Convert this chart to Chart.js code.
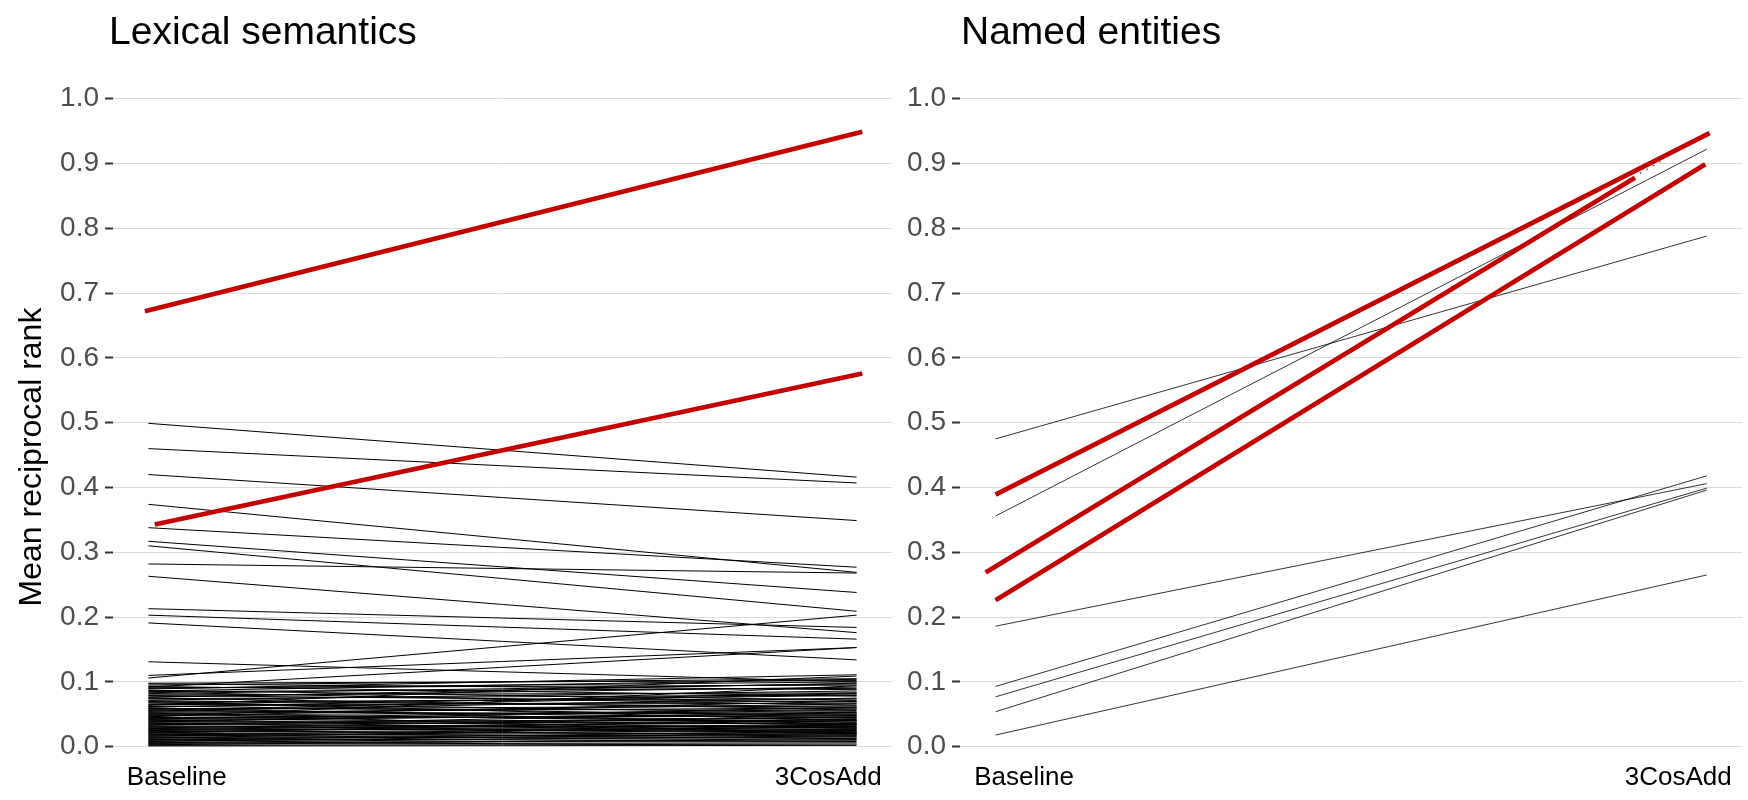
<!DOCTYPE html>
<html>
<head>
<meta charset="utf-8">
<script src="https://cdn.jsdelivr.net/npm/chart.js@4.4.0/dist/chart.umd.min.js"></script>
<style>
  html, body { margin: 0; padding: 0; background: #ffffff; }
  #wrap { position: relative; width: 1748px; height: 800px; overflow: hidden; }
  #wrap canvas { position: absolute; top: 0; }
  #lex { left: 0; }
  #ne { left: 900px; }
</style>
</head>
<body>
<div id="wrap">
  <canvas id="lex" width="900" height="800"></canvas>
  <canvas id="ne" width="848" height="800"></canvas>
</div>
<script>
// ---- data -------------------------------------------------------------
const conditions = ['Baseline', '3CosAdd'];
const conditionTickX = [0.04, 0.96];

// Lexical semantics: one line per relation, MRR under each condition
const lexBaseline = [
  0.499, 0.460, 0.420, 0.374, 0.338, 0.317, 0.310, 0.282, 0.263, 0.213,
  0.203, 0.191, 0.131, 0.110, 0.106, 0.092,
  0.098, 0.097, 0.095, 0.093, 0.091, 0.089, 0.087, 0.085, 0.084, 0.082,
  0.080, 0.079, 0.077, 0.075, 0.074, 0.072, 0.071, 0.069, 0.068, 0.066,
  0.065, 0.063, 0.062, 0.061, 0.059, 0.058, 0.057, 0.055, 0.054, 0.053,
  0.051, 0.050, 0.049, 0.048, 0.047, 0.045, 0.044, 0.043, 0.042, 0.041,
  0.040, 0.039, 0.038, 0.037, 0.036, 0.035, 0.034, 0.033, 0.032, 0.031,
  0.030, 0.029, 0.028, 0.027, 0.026, 0.025, 0.024, 0.023, 0.022, 0.021,
  0.020, 0.019, 0.018, 0.017, 0.016, 0.015, 0.014, 0.013, 0.012, 0.011,
  0.010, 0.009, 0.008, 0.007, 0.006, 0.005, 0.004, 0.003, 0.002, 0.001,
  0.090, 0.086, 0.076, 0.064, 0.056, 0.046, 0.070, 0.060, 0.052
];
const lexCosAdd = [
  0.416, 0.407, 0.349, 0.269, 0.277, 0.238, 0.209, 0.268, 0.176, 0.184,
  0.166, 0.134, 0.100, 0.153, 0.203, 0.153,
  0.102, 0.088, 0.105, 0.078, 0.095, 0.111, 0.072, 0.090, 0.064, 0.097,
  0.083, 0.069, 0.092, 0.058, 0.080, 0.086, 0.061, 0.074, 0.052, 0.079,
  0.067, 0.048, 0.071, 0.083, 0.056, 0.063, 0.044, 0.075, 0.050, 0.060,
  0.038, 0.066, 0.054, 0.042, 0.070, 0.047, 0.034, 0.058, 0.049, 0.029,
  0.052, 0.041, 0.061, 0.036, 0.026, 0.045, 0.040, 0.053, 0.031, 0.022,
  0.037, 0.046, 0.033, 0.025, 0.040, 0.030, 0.019, 0.035, 0.028, 0.043,
  0.024, 0.016, 0.031, 0.022, 0.027, 0.013, 0.020, 0.034, 0.018, 0.010,
  0.024, 0.015, 0.021, 0.008, 0.017, 0.011, 0.006, 0.013, 0.004, 0.002,
  0.100, 0.104, 0.098, 0.109, 0.082, 0.094, 0.040, 0.035, 0.020
];
// highlighted relations (red): values and x at each end
const lexHighlightBaseline = [0.672, 0.343];
const lexHighlightCosAdd = [0.949, 0.576];
const lexHighlightFromX = [-0.005, 0.009];
const lexHighlightToX = [1.008, 1.008];

// Named entities
const neBaseline = [0.475, 0.356, 0.186, 0.093, 0.077, 0.054, 0.018];
const neCosAdd = [0.788, 0.922, 0.406, 0.418, 0.399, 0.396, 0.265];
const neHighlightBaseline = [0.389, 0.226, 0.269];
const neHighlightCosAdd = [0.947, 0.899, 0.878];
const neHighlightFromX = [0, 0, -0.014];
const neHighlightToX = [1.004, 0.998, 0.899];
// short dotted trace continuing past the last highlighted segment
const neTraceX = [0.906, 0.935];
const neTraceY = [0.885, 0.903];

// ---- styling ----------------------------------------------------------
const FONT = "'Liberation Sans', Arial, Helvetica, sans-serif";
const RED = '#C40000';
Chart.defaults.font.family = FONT;

function segment(x0, y0, x1, y1, color, width, order, dash) {
  return {
    data: [{ x: x0, y: y0 }, { x: x1, y: y1 }],
    borderColor: color,
    borderWidth: width,
    borderDash: dash || [],
    pointRadius: 0,
    pointHoverRadius: 0,
    fill: false,
    tension: 0,
    order: order
  };
}

// panel title and axis title drawn straight on the canvas
const panelText = {
  id: 'panelText',
  afterDraw(chart, args, opts) {
    const ctx = chart.ctx;
    ctx.save();
    ctx.fillStyle = '#000';
    ctx.textBaseline = 'alphabetic';
    ctx.textAlign = 'left';
    ctx.font = '39px ' + FONT;
    ctx.fillText(opts.title, opts.titleX, opts.titleY);
    if (opts.yLabel) {
      ctx.font = '32px ' + FONT;
      ctx.translate(opts.yLabelX, opts.yLabelY);
      ctx.rotate(-Math.PI / 2);
      ctx.textAlign = 'center';
      ctx.fillText(opts.yLabel, 0, 0);
    }
    ctx.restore();
  }
};

function makeOptions(axisWidth, padRight, text) {
  return {
    responsive: false,
    animation: false,
    devicePixelRatio: 1,
    layout: { padding: { top: 98.7, right: padRight, bottom: 0, left: 0 } },
    plugins: {
      legend: { display: false },
      tooltip: { enabled: false },
      panelText: text
    },
    scales: {
      x: {
        type: 'linear',
        min: -0.05,
        max: 1.05,
        grid: { display: false, drawTicks: false },
        border: { display: false },
        afterBuildTicks: (s) => { s.ticks = conditionTickX.map(v => ({ value: v })); },
        afterFit: (s) => { s.height = 53.3; },
        ticks: {
          autoSkip: false,
          maxRotation: 0,
          padding: 16,
          color: '#000',
          font: { size: 26 },
          callback: (v, i) => conditions[i]
        }
      },
      y: {
        min: 0,
        max: 1,
        afterFit: (s) => { s.width = axisWidth; },
        border: { display: false },
        grid: { color: '#DCDCDC', lineWidth: 1, tickColor: '#333333', tickLength: 8, tickWidth: 2 },
        ticks: {
          stepSize: 0.1,
          padding: 6,
          color: '#4D4D4D',
          font: { size: 28 },
          callback: (v) => v.toFixed(1)
        }
      }
    }
  };
}

// ---- Lexical semantics ------------------------------------------------
const lexSets = [];
lexBaseline.forEach((b, i) => lexSets.push(segment(0, b, 1, lexCosAdd[i], '#000000', 1, 2)));
lexHighlightBaseline.forEach((b, i) => lexSets.push(
  segment(lexHighlightFromX[i], b, lexHighlightToX[i], lexHighlightCosAdd[i], RED, 4.7, 0)));

new Chart(document.getElementById('lex'), {
  type: 'line',
  data: { datasets: lexSets },
  options: makeOptions(113, 8, {
    title: 'Lexical semantics', titleX: 109, titleY: 44,
    yLabel: 'Mean reciprocal rank', yLabelX: 41, yLabelY: 457
  }),
  plugins: [panelText]
});

// ---- Named entities ---------------------------------------------------
const neSets = [];
neBaseline.forEach((b, i) => neSets.push(segment(0, b, 1, neCosAdd[i], 'rgba(0,0,0,0.8)', 1, 2)));
neHighlightBaseline.forEach((b, i) => neSets.push(
  segment(neHighlightFromX[i], b, neHighlightToX[i], neHighlightCosAdd[i], RED, 4.7, 0)));
neSets.push(segment(neTraceX[0], neTraceY[0], neTraceX[1], neTraceY[1], '#555555', 1.5, 1, [1.5, 6]));

new Chart(document.getElementById('ne'), {
  type: 'line',
  data: { datasets: neSets },
  options: makeOptions(60, 3, {
    title: 'Named entities', titleX: 61, titleY: 44
  }),
  plugins: [panelText]
});
</script>
</body>
</html>
